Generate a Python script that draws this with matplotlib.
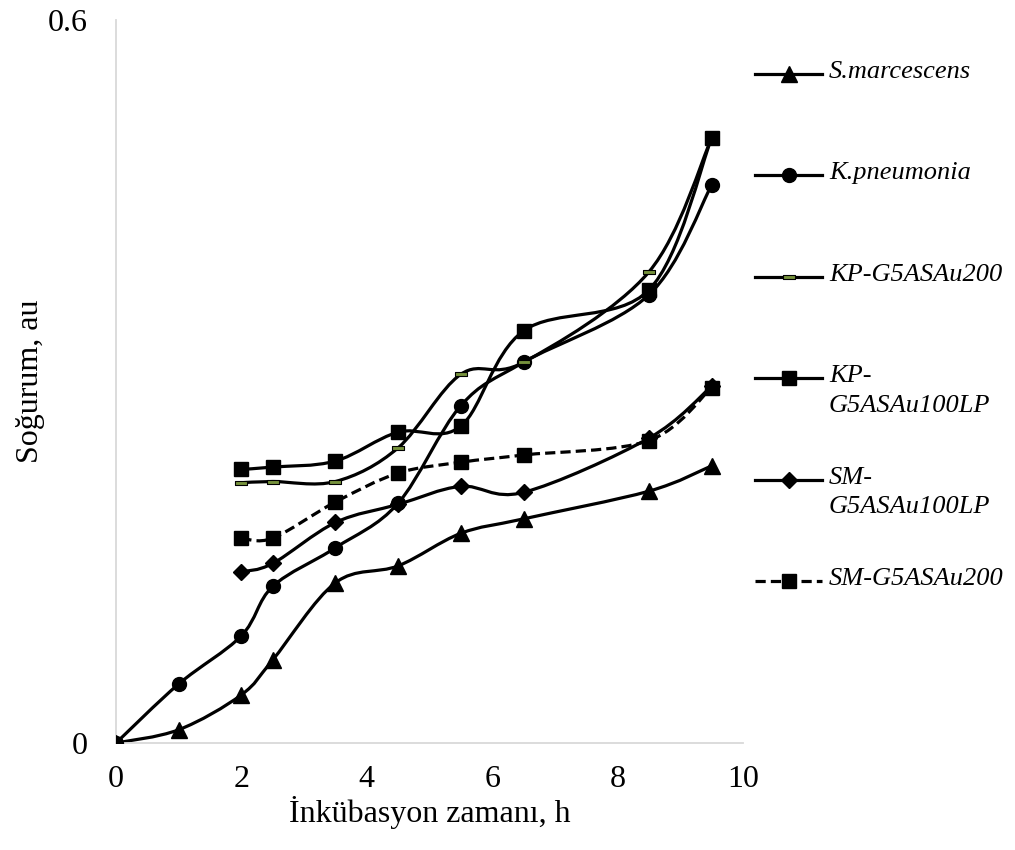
import numpy as np
import matplotlib
matplotlib.use("Agg")
import matplotlib.pyplot as plt
from matplotlib.path import Path
from matplotlib.patches import PathPatch
from matplotlib.lines import Line2D

# data
x_full = [0, 1, 2, 2.5, 3.5, 4.5, 5.5, 6.5, 8.5, 9.5]
x_part = [2, 2.5, 3.5, 4.5, 5.5, 6.5, 8.5, 9.5]

s_marcescens = [0, 0.011, 0.040, 0.069, 0.133, 0.147, 0.174, 0.186, 0.209, 0.230]
k_pneumonia = [0, 0.049, 0.089, 0.130, 0.162, 0.199, 0.280, 0.316, 0.372, 0.463]
kp_200 = [0.216, 0.217, 0.217, 0.245, 0.306, 0.316, 0.391, 0.502]
kp_100lp = [0.227, 0.229, 0.234, 0.258, 0.263, 0.342, 0.376, 0.502]
sm_100lp = [0.142, 0.149, 0.183, 0.198, 0.213, 0.208, 0.253, 0.296]
sm_200 = [0.170, 0.170, 0.200, 0.224, 0.233, 0.239, 0.251, 0.295]

labels = ["S.marcescens", "K.pneumonia", "KP-G5ASAu200",
          "KP-\nG5ASAu100LP", "SM-\nG5ASAu100LP", "SM-G5ASAu200"]

# dash marker for KP-G5ASAu200
bar = Path([(-1, -0.28), (1, -0.28), (1, 0.28), (-1, 0.28), (-1, -0.28)],
           [Path.MOVETO, Path.LINETO, Path.LINETO, Path.LINETO, Path.CLOSEPOLY])

series = [
    (x_full, s_marcescens, dict(marker="^", ms=11), "-"),
    (x_full, k_pneumonia, dict(marker="o", ms=10), "-"),
    (x_part, kp_200, dict(marker=bar, ms=9, mfc="#76923c", mec="black", mew=0.8), "-"),
    (x_part, kp_100lp, dict(marker="s", ms=10), "-"),
    (x_part, sm_100lp, dict(marker="D", ms=8), "-"),
    (x_part, sm_200, dict(marker="s", ms=10), (0, (3.2, 1.6))),
]


def smooth_path(xs, ys):
    # excel-like smoothed line: bezier segments with catmull-rom controls
    p = np.column_stack([xs, ys]).astype(float)
    ext = np.vstack([p[0], p, p[-1]])
    verts = [tuple(p[0])]
    codes = [Path.MOVETO]
    for i in range(len(p) - 1):
        p0, p1, p2, p3 = ext[i], ext[i + 1], ext[i + 2], ext[i + 3]
        c1 = p1 + (p2 - p0) / 6.0
        c2 = p2 - (p3 - p1) / 6.0
        verts += [tuple(c1), tuple(c2), tuple(p2)]
        codes += [Path.CURVE4] * 3
    return Path(verts, codes)


plt.rcParams['font.family'] = ['Liberation Serif', 'DejaVu Serif']

fig = plt.figure(figsize=(10.15, 8.5), dpi=100)
W, H = 1015, 850
ax = fig.add_axes([116 / W, 1 - 743 / H, (743 - 116) / W, (743 - 20) / H])

for xs, ys, mk, ls in series:
    ax.add_patch(PathPatch(smooth_path(xs, ys), fill=False, ec="black",
                           lw=2.3, ls=ls, capstyle="butt", zorder=2))
    kw = dict(mfc="black", mec="black")
    kw.update(mk)
    ax.plot(xs, ys, ls="none", zorder=3, **kw)

ax.set_xlim(0, 10)
ax.set_ylim(0, 0.6)
ax.set_xticks([0, 2, 4, 6, 8, 10])
ax.set_yticks([0, 0.6])
ax.set_yticklabels(["0", "0.6"])
ax.tick_params(axis="both", length=0, labelsize=23)
ax.tick_params(axis="x", pad=16)
ax.tick_params(axis="y", pad=20)
for s in ["top", "right"]:
    ax.spines[s].set_visible(False)
for s in ["left", "bottom"]:
    ax.spines[s].set_color("#d9d9d9")
    ax.spines[s].set_linewidth(1.3)

ax.set_xlabel("İnkübasyon zamanı, h", fontsize=23, labelpad=1)
ax.set_ylabel("Soğurum, au", fontsize=23, labelpad=2)

# legend drawn by hand so the handle sits on the first text line
for i, ((xs, ys, mk, ls), lab) in enumerate(zip(series, labels)):
    yp = 74 + i * 101.4
    kw = dict(mfc="black", mec="black")
    kw.update(mk)
    fig.add_artist(Line2D([755 / W, 789 / W, 822 / W], [1 - yp / H] * 3,
                          color="black", lw=2.3, ls=ls, markevery=[1],
                          transform=fig.transFigure, **kw))
    fig.text(829 / W, 1 - (yp - 13) / H, lab, fontsize=19, style="italic",
             ha="left", va="top", linespacing=1.43)

fig.savefig("out.png", dpi=100)
